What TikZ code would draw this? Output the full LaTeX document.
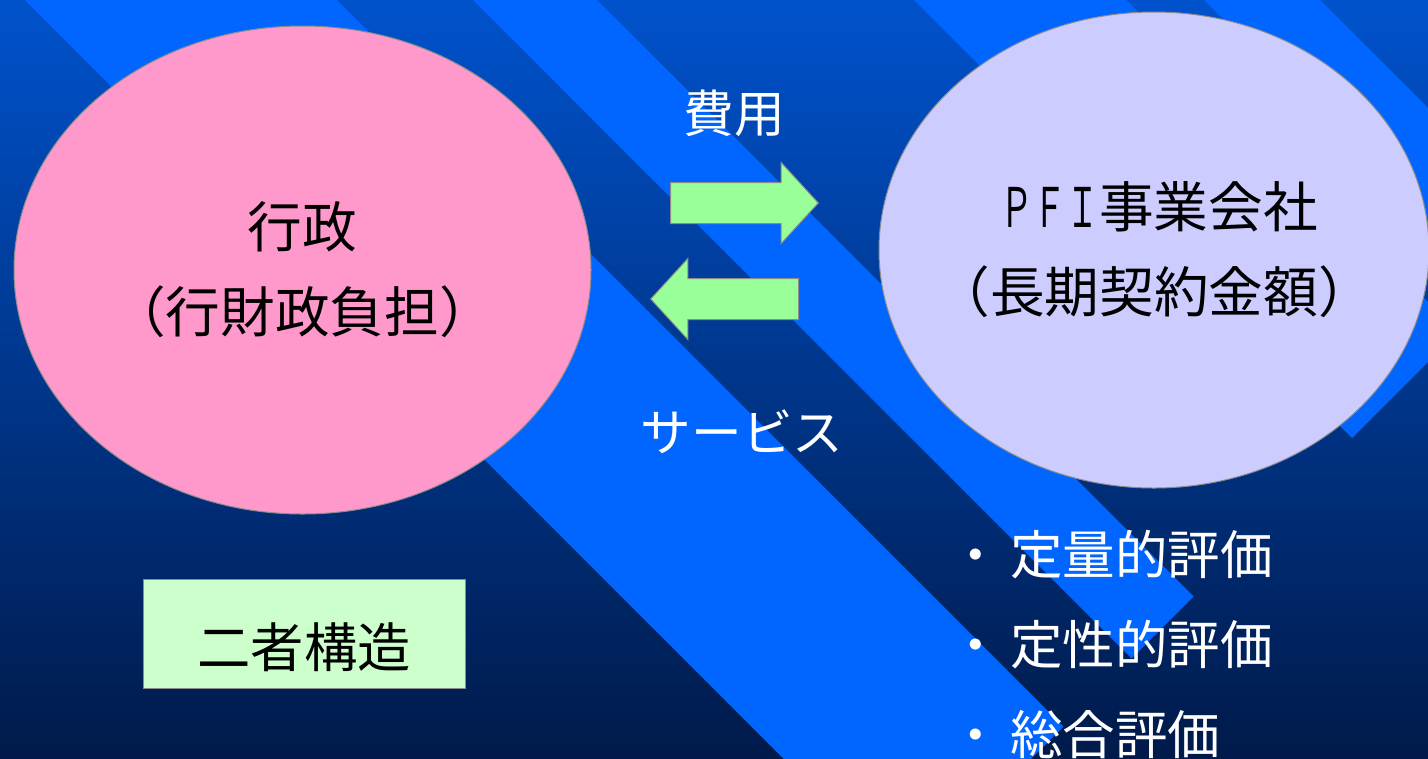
\documentclass[tikz,border=0pt]{standalone}
\usepackage{fontspec}
\usepackage{graphicx}
\newfontfamily\jp{Noto Sans CJK JP}
\usetikzlibrary{shapes.geometric,shapes.arrows}
\definecolor{bgtop}{HTML}{0052CC}
\definecolor{bgmid}{HTML}{00389C}
\definecolor{bgbot}{HTML}{001A4A}
\definecolor{stripe}{HTML}{0066FF}
\definecolor{pinkfill}{HTML}{FF99CC}
\definecolor{lavfill}{HTML}{CCCCFF}
\definecolor{arrowfill}{HTML}{99FF99}
\definecolor{boxfill}{HTML}{CCFFCC}
\definecolor{edgegray}{HTML}{8C8C8C}
\newcommand{\shaftbox}{\hbox to 96pt{\vrule width 0pt height 15pt depth 15pt\hfil}}
\newcommand{\zw}[1]{\makebox[0pt]{#1}}
\begin{document}
\begin{tikzpicture}[x=0.75pt,y=-0.75pt,
  stripeband/.style={fill=stripe},
  bigoval/.style={ellipse, draw=edgegray, line width=0.75pt, inner sep=0pt, align=center,
    font=\jp\fontsize{41pt}{63.75pt}\selectfont},
  blockarrow/.style={single arrow, draw=edgegray, line width=0.75pt, fill=arrowfill,
    single arrow head extend=15pt, single arrow tip angle=95, inner sep=0pt},
  whitelabel/.style={text=white, inner sep=0pt, font=\jp\fontsize{38pt}{46pt}\selectfont},
  notebox/.style={draw=edgegray, line width=0.75pt, fill=boxfill, inner sep=0pt},
  listitem/.style={text=white, anchor=west, inner sep=0pt, font=\jp\fontsize{39.4pt}{47pt}\selectfont},
]
\useasboundingbox (0,0) rectangle (1428,758);
\shade[top color=bgtop, middle color=bgmid, bottom color=bgbot] (0,0) rectangle (1428,758);
\begin{scope}
  \clip (0,0) rectangle (1428,758);
  \fill[stripeband] (-87.5,-112.5) -- (68.5,-268.5) -- (1063.5,726.5) -- (907.5,882.5) -- cycle;
  \fill[stripeband] (136.5,-336.5) -- (198.5,-398.5) -- (1193.5,596.5) -- (1131.5,658.5) -- cycle;
  \fill[stripeband] (357,-557) -- (463,-663) -- (1458,332) -- (1352,438) -- cycle;
  \fill[stripeband] (502,-702) -- (560,-760) -- (1555,235) -- (1497,293) -- cycle;
\end{scope}

\node[bigoval, fill=pinkfill, minimum width=432.75pt, minimum height=366pt] (gov) at (302.5,270)
  {\zw{行政}\\\zw{（行財政負担）}};
\node[bigoval, fill=lavfill, minimum width=412.5pt, minimum height=357pt] (pfi) at (1154,250)
  {\zw{\hspace{8pt}\scalebox{0.6}[1]{ＰＦＩ}事業会社}\\\zw{（長期契約金額）}};

\node[blockarrow, anchor=tail] (pay) at (670,203) {\shaftbox};
\node[blockarrow, shape border rotate=180, anchor=tail] (svc) at (799,299) {\shaftbox};

\node[whitelabel] (paylbl) at (734,113) {費用};
\node[whitelabel] (svclbl) at (742,432) {サービス};

\node[notebox, minimum width=241.5pt, minimum height=81.75pt] (two) at (304,633.5) {};
\node[inner sep=0pt, font=\jp\fontsize{40pt}{48pt}\selectfont] (twolbl) at (304,647) {二者構造};

\node[listitem] (ev1) at (940,555) {\makebox[52.5pt][c]{・}定量的評価};
\node[listitem] (ev2) at (940,645) {\makebox[52.5pt][c]{・}定性的評価};
\node[listitem] (ev3) at (940,735) {\makebox[52.5pt][c]{・}総合評価};
\end{tikzpicture}
\end{document}
